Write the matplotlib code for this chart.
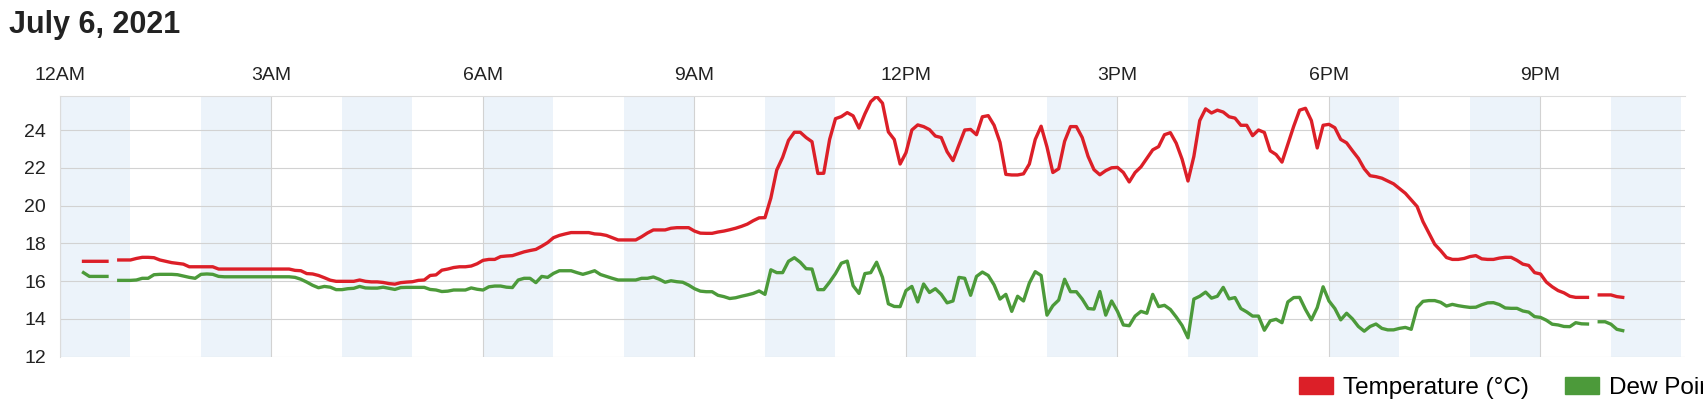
import numpy as np
import pandas as pd
import matplotlib
matplotlib.use('Agg')
import matplotlib.pyplot as plt
from matplotlib.patches import Patch

nan = np.nan

# readings every 5 minutes, 00:20 -> 22:10 (nan = missing reading)
times = pd.date_range('2021-07-06 00:20', '2021-07-06 22:10', freq='5min')

temperature = [
    17.05, 17.05, 17.05, 17.05, 17.05, nan, 17.12, 17.12, 17.12, 17.2,
    17.26, 17.26, 17.24, 17.12, 17.05, 16.98, 16.94, 16.9, 16.76, 16.76,
    16.76, 16.76, 16.76, 16.64, 16.64, 16.64, 16.64, 16.64, 16.64, 16.64,
    16.64, 16.64, 16.64, 16.64, 16.64, 16.64, 16.57, 16.55, 16.4, 16.38,
    16.3, 16.18, 16.05, 15.99, 15.99, 15.99, 15.99, 16.06, 15.99, 15.96,
    15.96, 15.93, 15.87, 15.84, 15.92, 15.95, 15.97, 16.04, 16.06, 16.3,
    16.33, 16.58, 16.64, 16.72, 16.76, 16.76, 16.8, 16.92, 17.1, 17.15,
    17.15, 17.3, 17.33, 17.35, 17.45, 17.55, 17.62, 17.68, 17.85, 18.04,
    18.3, 18.42, 18.5, 18.57, 18.57, 18.57, 18.57, 18.5, 18.48, 18.42,
    18.3, 18.18, 18.18, 18.18, 18.18, 18.35, 18.55, 18.71, 18.71, 18.71,
    18.8, 18.83, 18.83, 18.83, 18.65, 18.54, 18.53, 18.53, 18.6, 18.65,
    18.72, 18.8, 18.9, 19.02, 19.2, 19.35, 19.36, 20.4, 21.88, 22.55,
    23.45, 23.88, 23.88, 23.6, 23.38, 21.7, 21.71, 23.5, 24.6, 24.71,
    24.92, 24.75, 24.1, 24.85, 25.5, 25.78, 25.42, 23.9, 23.5, 22.2,
    22.8, 24.0, 24.27, 24.18, 24.02, 23.68, 23.6, 22.85, 22.38, 23.2,
    24.0, 24.03, 23.75, 24.7, 24.76, 24.25, 23.35, 21.65, 21.62, 21.62,
    21.68, 22.2, 23.5, 24.2, 23.1, 21.75, 21.95, 23.4, 24.18, 24.18,
    23.6, 22.6, 21.9, 21.63, 21.85, 22.0, 22.02, 21.75, 21.25, 21.75,
    22.05, 22.5, 22.95, 23.12, 23.75, 23.86, 23.3, 22.45, 21.3, 22.6,
    24.5, 25.12, 24.9, 25.05, 24.95, 24.7, 24.63, 24.25, 24.25, 23.7,
    24.0, 23.87, 22.9, 22.7, 22.3, 23.25, 24.2, 25.05, 25.15, 24.5,
    23.05, 24.25, 24.3, 24.12, 23.5, 23.32, 22.9, 22.5, 21.95, 21.58,
    21.53, 21.45, 21.3, 21.15, 20.9, 20.65, 20.3, 19.95, 19.15, 18.55,
    17.95, 17.62, 17.25, 17.15, 17.15, 17.2, 17.3, 17.35, 17.18, 17.15,
    17.15, 17.22, 17.26, 17.26, 17.1, 16.9, 16.83, 16.45, 16.38, 15.95,
    15.7, 15.5, 15.38, 15.2, 15.14, 15.14, 15.14, nan, 15.27, 15.27,
    15.27, 15.18, 15.14,
]

dew_point = [
    16.45, 16.25, 16.25, 16.25, 16.25, nan, 16.04, 16.04, 16.04, 16.06,
    16.15, 16.15, 16.34, 16.36, 16.36, 16.36, 16.34, 16.27, 16.2, 16.15,
    16.36, 16.38, 16.36, 16.25, 16.23, 16.23, 16.23, 16.23, 16.23, 16.23,
    16.23, 16.23, 16.23, 16.23, 16.23, 16.23, 16.2, 16.1, 15.95, 15.78,
    15.65, 15.72, 15.68, 15.55, 15.55, 15.6, 15.62, 15.72, 15.64, 15.63,
    15.63, 15.68, 15.62, 15.56, 15.66, 15.67, 15.67, 15.67, 15.67, 15.56,
    15.53, 15.45, 15.47, 15.53, 15.53, 15.53, 15.64, 15.57, 15.53, 15.7,
    15.74, 15.74, 15.68, 15.66, 16.06, 16.15, 16.15, 15.92, 16.25, 16.2,
    16.41, 16.55, 16.55, 16.55, 16.45, 16.36, 16.45, 16.55, 16.35, 16.25,
    16.15, 16.06, 16.06, 16.06, 16.06, 16.15, 16.15, 16.22, 16.1, 15.94,
    16.02, 15.97, 15.94, 15.79, 15.6, 15.47, 15.44, 15.44, 15.25, 15.18,
    15.08, 15.12, 15.2, 15.27, 15.35, 15.48, 15.3, 16.6, 16.45, 16.45,
    17.05, 17.24, 17.0, 16.66, 16.64, 15.55, 15.55, 15.95, 16.4, 16.95,
    17.06, 15.76, 15.35, 16.4, 16.45, 17.0, 16.2, 14.8, 14.66, 14.65,
    15.5, 15.72, 14.9, 15.85, 15.4, 15.6, 15.3, 14.85, 14.95, 16.2,
    16.15, 15.25, 16.25, 16.48, 16.3, 15.8, 15.05, 15.3, 14.4, 15.2,
    14.95, 15.9, 16.5, 16.3, 14.2, 14.7, 15.0, 16.1, 15.44, 15.44,
    15.05, 14.55, 14.52, 15.45, 14.2, 14.95, 14.4, 13.68, 13.64, 14.15,
    14.4, 14.3, 15.3, 14.65, 14.72, 14.5, 14.1, 13.65, 13.0, 15.05,
    15.2, 15.42, 15.1, 15.2, 15.67, 15.06, 15.13, 14.55, 14.37, 14.15,
    14.15, 13.4, 13.9, 13.98, 13.8, 14.9, 15.13, 15.14, 14.5, 13.95,
    14.6, 15.7, 14.95, 14.55, 13.95, 14.3, 14.0, 13.6, 13.35, 13.6,
    13.73, 13.5, 13.42, 13.42, 13.5, 13.55, 13.45, 14.6, 14.93, 14.97,
    14.97, 14.88, 14.68, 14.77, 14.7, 14.65, 14.61, 14.62, 14.75, 14.85,
    14.86, 14.76, 14.58, 14.56, 14.56, 14.42, 14.36, 14.12, 14.08, 13.93,
    13.72, 13.68, 13.6, 13.59, 13.8, 13.74, 13.73, nan, 13.85, 13.85,
    13.72, 13.45, 13.38,
]

hour_ticks = [0, 3, 6, 9, 12, 15, 18, 21]
hour_labels = ['12AM', '3AM', '6AM', '9AM', '12PM', '3PM', '6PM', '9PM']
y_ticks = [12, 14, 16, 18, 20, 22, 24]
series_names = ['Temperature (°C)', 'Dew Point (°C)']

RED = '#dc1f28'
GREEN = '#4c9a3a'
BAND = '#ecf3fa'
GRID = '#d2d2d2'

plt.rcParams['font.family'] = ['Liberation Sans', 'DejaVu Sans']

hours = (times - times[0].normalize()) / pd.Timedelta(hours=1)

fig = plt.figure(figsize=(17.03, 4.01), dpi=100)
ax = fig.add_axes([60 / 1703, 1 - 356.7 / 401, 1625 / 1703, 260.7 / 401])

# alternating hour shading
for h in range(0, 23, 2):
    ax.axvspan(h, h + 1, color=BAND, lw=0, zorder=0)

ax.plot(hours, temperature, color=RED, lw=2.4, zorder=3)
ax.plot(hours, dew_point, color=GREEN, lw=2.4, zorder=3)

ax.set_xlim(0, 23.05)
ax.set_ylim(12, 25.8)

ax.xaxis.tick_top()
ax.set_xticks(hour_ticks)
ax.set_xticklabels(hour_labels)
ax.set_yticks(y_ticks)
ax.tick_params(axis='x', length=0, pad=9, labelsize=14, colors='#222222')
ax.tick_params(axis='y', length=0, pad=10, labelsize=14, colors='#222222')

ax.grid(True, color=GRID, lw=0.8, zorder=1)
ax.set_axisbelow(True)
for side in ['right', 'bottom']:
    ax.spines[side].set_visible(False)
for side in ['top', 'left']:
    ax.spines[side].set_color('#dcdcdc')
    ax.spines[side].set_linewidth(0.8)

fig.text(9 / 1703, 1 - 33 / 401, 'July 6, 2021', fontsize=22,
         fontweight='bold', color='#222222', va='baseline')

handles = [Patch(color=RED), Patch(color=GREEN)]
fig.legend(handles, series_names, loc='center left',
           bbox_to_anchor=(1299 / 1703, 1 - 388 / 401), ncol=2,
           frameon=False, fontsize=17.5, handlelength=1.4, handleheight=0.7,
           handletextpad=0.41, columnspacing=1.48, borderpad=0,
           borderaxespad=0)

fig.savefig('out.png', dpi=100)
